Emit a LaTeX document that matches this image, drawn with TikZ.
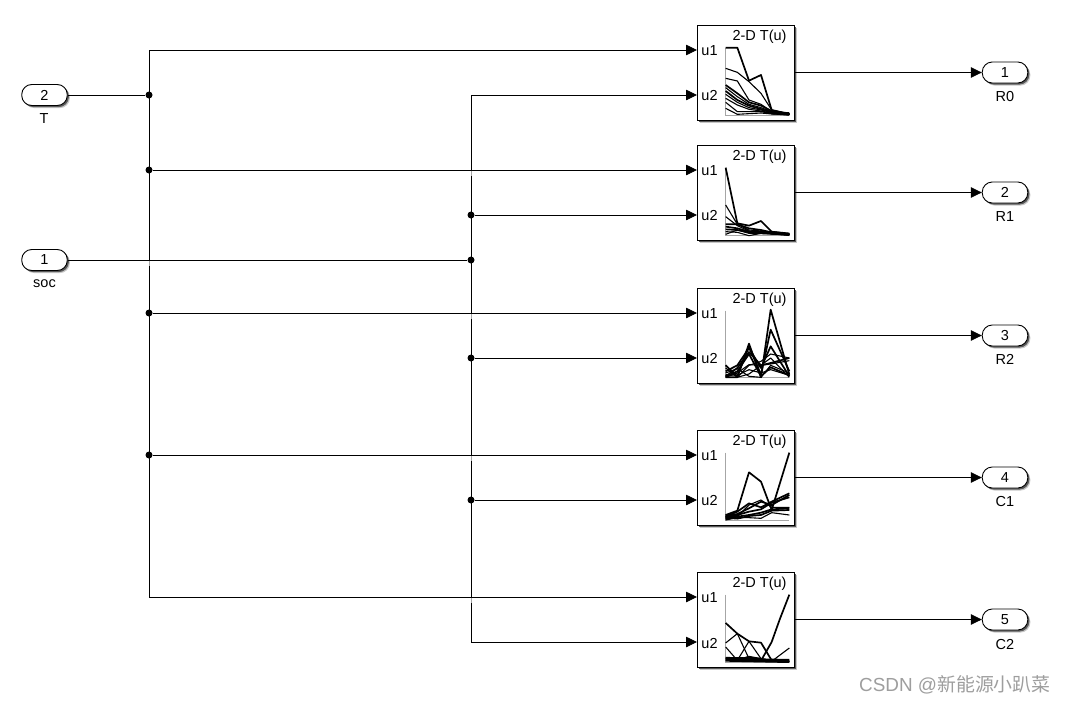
\documentclass[tikz,border=0pt]{standalone}
\usepackage{fontspec}
\setmainfont{Liberation Sans}
\newfontfamily\cjkfont{Noto Sans CJK SC}
\usetikzlibrary{shadows,arrows.meta}
\tikzset{
  x=1pt,y=-1pt,
  sim/.style={font=\fontsize{14.5}{16}\selectfont},
  softshadow/.style={drop shadow={shadow xshift=2.6pt,shadow yshift=-2.6pt,fill=black!22,opacity=1},drop shadow={shadow xshift=1.6pt,shadow yshift=-1.6pt,fill=black!65,opacity=1}},
  block/.style={softshadow,draw=black,line width=0.9pt,fill=white,minimum width=97pt,minimum height=95pt,inner sep=0pt,anchor=north west},
  pill/.style={softshadow,draw=black,line width=0.9pt,fill=white,rounded corners=10pt,minimum width=45.5pt,minimum height=21pt,inner sep=0pt,sim},
  wire/.style={line width=0.8pt,black},
  arr/.style={wire,-{Triangle[length=11pt,width=10.5pt]}},
  dot/.style={circle,fill=black,inner sep=0pt,minimum size=7pt},
  lab/.style={sim,inner sep=0pt},
  axis/.style={line width=0.7pt,black!35},
  curve/.style={line width=1.1pt,black,line join=round},
  bold/.style={line width=1.7pt,black,line join=round},
  heavy/.style={line width=3.4pt,black},
  crossfade/.style={fill=white,opacity=0.65},
}
\newcommand{\lutblock}[2]{%
  \node[block] (b#1) at (697,#2) {};
  \coordinate (u1#1) at (697,#2+25);
  \coordinate (u2#1) at (697,#2+70);
  \coordinate (o#1) at (794,#2+47.5);
  \node[lab] (tu1#1) at (709.5,#2+26) {u1};
  \node[lab] (tu2#1) at (709.5,#2+71) {u2};
  \node[lab] (tt#1) at (759.5,#2+11.5) {2-D T(u)};
}
\begin{document}
\begin{tikzpicture}
\useasboundingbox (0,0) rectangle (1065,704);
\fill[white] (0,0) rectangle (1065,704);
% blocks
\lutblock{1}{25}
\lutblock{2}{145}
\lutblock{3}{288}
\lutblock{4}{430}
\lutblock{5}{572}
% junction coordinates
\coordinate (tf) at (149,50);
\coordinate (te) at (149,597);
\coordinate (sa) at (471,95);
\coordinate (sf) at (471,642);
% ports
\node[pill] (pT) at (44.5,95) {2};
\node[lab] (lT) at (44,118.5) {T};
\node[pill] (pS) at (44.5,260) {1};
\node[lab] (lS) at (44.5,284) {soc};
\node[pill] (r0) at (1005,72.5) {1};
\node[lab] (lr0) at (1005,96.5) {R0};
\node[pill] (r1) at (1005,192.5) {2};
\node[lab] (lr1) at (1005,216.5) {R1};
\node[pill] (r2) at (1005,335.5) {3};
\node[lab] (lr2) at (1005,359) {R2};
\node[pill] (c1) at (1005,477.5) {4};
\node[lab] (lc1) at (1005,501.5) {C1};
\node[pill] (c2) at (1005,619.5) {5};
\node[lab] (lc2) at (1005,644) {C2};
% wires
\draw[wire] (tf) -- (te);
\draw[wire] (sa) -- (sf);
\fill[crossfade] (147.5,260) rectangle (150.5,266);
\fill[crossfade] (469.5,170) rectangle (472.5,176);
\fill[crossfade] (469.5,313) rectangle (472.5,319);
\fill[crossfade] (469.5,455) rectangle (472.5,461);
\fill[crossfade] (469.5,597) rectangle (472.5,603);
\node[dot] (ta) at (149,95) {};
\node[dot] (tb) at (149,170) {};
\node[dot] (tc) at (149,313) {};
\node[dot] (td) at (149,455) {};
\node[dot] (sb) at (471,215) {};
\node[dot] (sc) at (471,260) {};
\node[dot] (sd) at (471,358) {};
\node[dot] (se) at (471,500) {};
\draw[wire] (pT.east) -- (ta);
\draw[wire] (pS.east) -- (sc);
\draw[arr] (tf) -- (u11);
\draw[arr] (sa) -- (u21);
\draw[arr] (tb) -- (u12);
\draw[arr] (sb) -- (u22);
\draw[arr] (tc) -- (u13);
\draw[arr] (sd) -- (u23);
\draw[arr] (td) -- (u14);
\draw[arr] (se) -- (u24);
\draw[arr] (te) -- (u15);
\draw[arr] (sf) -- (u25);
\draw[arr] (o1) -- (r0.west);
\draw[arr] (o2) -- (r1.west);
\draw[arr] (o3) -- (r2.west);
\draw[arr] (o4) -- (c1.west);
\draw[arr] (o5) -- (c2.west);
% plot 1
\begin{scope}[shift={(680,15)},x=0.3333pt,y=-0.3333pt]
\draw[axis] (137,98) -- (137,300) -- (328,300);
\draw[bold] (137,98) -- (172,98) -- (207,197) -- (243,180) -- (275,285) -- (328,297);
\draw[curve] (137,160) -- (172,172) -- (207,200) -- (243,235) -- (275,285) -- (328,297);
\draw[curve] (137,190) -- (172,198) -- (207,255) -- (243,268) -- (275,290) -- (328,297);
\draw[bold] (137,210) -- (172,235) -- (207,262) -- (243,272) -- (275,288) -- (328,297);
\draw[curve] (137,218) -- (172,245) -- (207,268) -- (243,278) -- (275,290) -- (328,298);
\draw[bold] (137,228) -- (172,255) -- (207,272) -- (243,282) -- (275,292) -- (328,298);
\draw[curve] (137,238) -- (172,262) -- (207,278) -- (243,285) -- (275,293) -- (328,298);
\draw[curve] (137,250) -- (172,270) -- (207,283) -- (243,288) -- (275,295) -- (328,299);
\draw[curve] (137,262) -- (172,290) -- (207,290) -- (243,290) -- (275,296) -- (328,299);
\draw[curve] (137,280) -- (172,298) -- (207,296) -- (243,294) -- (275,297) -- (328,299);
\draw[heavy] (275,293) -- (328,297);
\end{scope}
% plot 2
\begin{scope}[shift={(680,135)},x=0.3333pt,y=-0.3333pt]
\draw[axis] (137,98) -- (137,302) -- (328,302);
\draw[bold] (137,98) -- (172,265) -- (207,272) -- (243,258) -- (275,290) -- (328,297);
\draw[curve] (137,210) -- (172,268) -- (207,285) -- (243,288) -- (275,292) -- (328,298);
\draw[curve] (137,245) -- (172,272) -- (207,288) -- (243,290) -- (275,294) -- (328,298);
\draw[bold] (137,268) -- (172,268) -- (207,280) -- (243,285) -- (275,292) -- (328,298);
\draw[bold] (137,275) -- (172,280) -- (207,290) -- (243,290) -- (275,294) -- (328,298);
\draw[bold] (137,283) -- (172,285) -- (207,292) -- (243,292) -- (275,296) -- (328,299);
\draw[curve] (137,290) -- (172,292) -- (207,302) -- (243,295) -- (275,297) -- (328,299);
\draw[curve] (137,298) -- (172,285) -- (207,295) -- (243,296) -- (275,297) -- (328,300);
\draw[heavy] (275,293) -- (328,298);
\end{scope}
% plot 3
\begin{scope}[shift={(680,278)},x=0.3333pt,y=-0.3333pt]
\draw[axis] (137,98) -- (137,298) -- (328,298);
\draw[bold] (137,298) -- (172,298) -- (207,197) -- (243,298) -- (272,95) -- (328,290);
\draw[bold] (137,262) -- (172,295) -- (207,205) -- (243,290) -- (272,155) -- (328,280);
\draw[bold] (137,280) -- (172,262) -- (207,210) -- (243,270) -- (272,205) -- (328,295);
\draw[curve] (137,262) -- (172,298) -- (207,262) -- (243,250) -- (272,228) -- (328,240);
\draw[bold] (137,295) -- (172,270) -- (207,222) -- (243,262) -- (272,255) -- (328,240);
\draw[curve] (137,298) -- (172,285) -- (207,260) -- (243,262) -- (272,258) -- (328,248);
\draw[curve] (137,270) -- (172,298) -- (207,288) -- (243,262) -- (272,240) -- (328,298);
\draw[curve] (137,285) -- (172,272) -- (207,295) -- (243,298) -- (272,262) -- (328,285);
\draw[curve] (137,290) -- (172,292) -- (207,275) -- (243,285) -- (272,275) -- (328,292);
\draw[bold] (137,296) -- (172,280) -- (207,228) -- (243,295) -- (272,268) -- (328,292);
\end{scope}
% plot 4
\begin{scope}[shift={(680,420)},x=0.3333pt,y=-0.3333pt]
\draw[axis] (137,98) -- (137,300) -- (328,300);
\draw[bold] (137,285) -- (172,272) -- (207,157) -- (243,185) -- (275,270) -- (328,98);
\draw[bold] (137,290) -- (172,275) -- (207,250) -- (243,262) -- (275,245) -- (328,220);
\draw[bold] (137,290) -- (172,282) -- (207,265) -- (243,245) -- (275,255) -- (328,225);
\draw[bold] (137,295) -- (172,285) -- (207,275) -- (243,268) -- (275,248) -- (328,232);
\draw[curve] (137,285) -- (172,290) -- (207,255) -- (243,240) -- (275,262) -- (328,262);
\draw[bold] (137,298) -- (172,290) -- (207,285) -- (243,278) -- (275,268) -- (328,265);
\draw[curve] (137,300) -- (172,293) -- (207,293) -- (243,295) -- (275,278) -- (328,285);
\draw[bold] (137,293) -- (172,296) -- (207,288) -- (243,285) -- (275,272) -- (328,270);
\draw[heavy] (137,292) -- (172,286);
\end{scope}
% plot 5
\begin{scope}[shift={(680,562)},x=0.3333pt,y=-0.3333pt]
\draw[axis] (137,98) -- (137,300) -- (328,300);
\draw[bold] (137,183) -- (172,215) -- (207,238) -- (243,242) -- (275,295) -- (328,298);
\draw[curve] (137,243) -- (172,215) -- (207,290) -- (243,292) -- (275,296) -- (328,298);
\draw[curve] (137,255) -- (172,295) -- (207,238) -- (243,290) -- (275,296) -- (328,298);
\draw[bold] (137,290) -- (172,293) -- (207,285) -- (243,296) -- (275,240) -- (300,170) -- (328,98);
\draw[curve] (137,295) -- (172,295) -- (207,283) -- (243,290) -- (275,298) -- (328,258);
\draw[line width=4pt] (137,293) -- (328,297);
\draw[line width=1.5pt] (137,287) -- (243,289);
\end{scope}
% watermark
\node[inner sep=0pt,anchor=west,text=black!38,font=\fontsize{18.9}{22}\selectfont] (wm) at (859,685) {CSDN @{\cjkfont 新能源小趴菜}};
\end{tikzpicture}
\end{document}
